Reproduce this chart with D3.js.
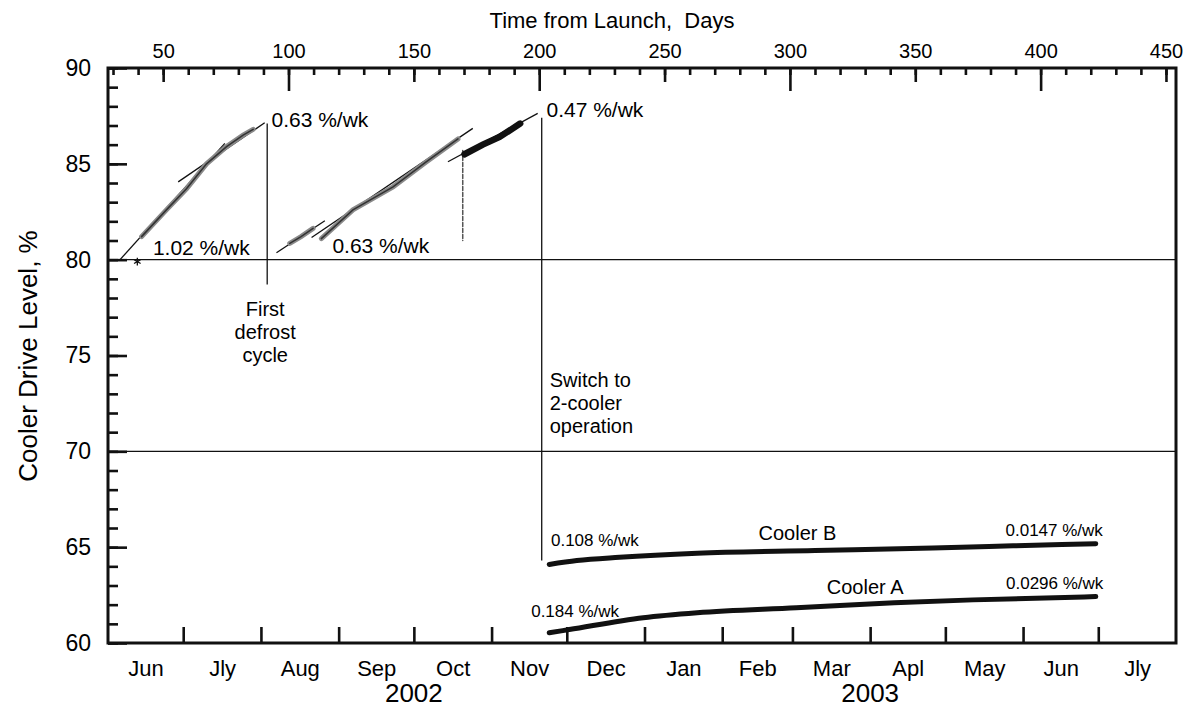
<!DOCTYPE html>
<html>
<head>
<meta charset="utf-8">
<script src="https://cdn.jsdelivr.net/npm/d3@7"></script>
<style>
  body { margin: 0; background: #fff; }
  svg { display: block; font-family: "Liberation Sans", Arial, sans-serif; }
</style>
</head>
<body>
<div id="chart"></div>
<script>
// day 0 = launch, 4 May 2002
const launchDate = new Date(2002, 4, 4);

// axis values
const dayMinor = d3.range(30, 451, 10);
const dayLabels = [50, 100, 150, 200, 250, 300, 350, 400, 450];
const driveMinor = d3.range(60, 91, 1);
const driveLabels = [60, 65, 70, 75, 80, 85, 90];
const monthNames = ["Jun", "Jly", "Aug", "Sep", "Oct", "Nov", "Dec", "Jan", "Feb", "Mar", "Apl", "May", "Jun", "Jly"];
const yearNames = ["2002", "2003"];
const yearCenters = [new Date(2002, 9, 1), new Date(2003, 3, 1)];
const refLevels = [80, 70];

// single-cooler traces [day, drive %]
const trace1 = [[41.4, 81.2], [51.3, 82.6], [59.3, 83.7], [67.3, 85.0], [75.3, 85.9], [81.9, 86.5], [85.9, 86.8]];
const trace2a = [[100.5, 80.85], [105, 81.2], [109.8, 81.63]];
const trace2b = [[113.1, 81.1], [125.7, 82.6], [141.7, 83.8], [154.9, 85.1], [167.6, 86.3]];
const dropTrace = [[169.5, 85.7], [169.5, 81.0]];
const trace3 = [[170.2, 85.5], [177.5, 86.0], [184.2, 86.4], [192.4, 87.1]];
const startMark = [[39.7, 79.9]];

// two-cooler traces
const coolerB = [[204, 64.1], [215, 64.3], [232, 64.47], [263, 64.68], [310, 64.82], [357, 64.96], [389, 65.07], [422, 65.18]];
const coolerA = [[204, 60.53], [212, 60.7], [241.5, 61.32], [263, 61.58], [302.5, 61.84], [341.6, 62.1], [373, 62.25], [422, 62.42]];

// fitted slopes
const fitLines = [
  [[32.8, 80.0], [74.6, 86.07]],
  [[56.0, 84.06], [90.5, 87.14]],
  [[95.2, 80.36], [114.5, 82.03]],
  [[109.2, 81.16], [173.5, 86.85]],
  [[163.6, 85.11], [199.4, 87.63]]
];
const rateNames = ["0.63 %/wk", "1.02 %/wk", "0.63 %/wk", "0.47 %/wk"];
const rateAt = [[93.2, 86.93], [45.9, 80.24], [117.5, 80.33], [202.9, 87.44]];

const coolerNames = ["0.108 %/wk", "Cooler B", "0.0147 %/wk", "0.184 %/wk", "Cooler A", "0.0296 %/wk"];
const coolerNameAt = [[204.7, 65.04], [303, 65.39], [386, 65.56], [196.8, 61.35], [330, 62.58], [386.2, 62.8]];

// event markers
const events = [
  { day: 91.5, top: 87.1, bottom: 78.7, text: ["First", "defrost", "cycle"] },
  { day: 201, top: 87.4, bottom: 64.3, text: ["Switch to", "2-cooler", "operation"] }
];

const width = 1191, height = 710;
const margin = { left: 108, right: 15, top: 68, bottom: 67 };

const svg = d3.select("#chart").append("svg").attr("width", width).attr("height", height);

const xDay = d3.scaleLinear().domain([28, 454]).range([margin.left, width - margin.right]);
const xTime = d3.scaleTime().domain([new Date(2002, 5, 1), new Date(2003, 7, 1)]).range(xDay.range());
const y = d3.scaleLinear().domain([60, 90]).range([height - margin.bottom, margin.top]);
const line = d3.line().x(d => xDay(d[0])).y(d => y(d[1]));

// reference levels
svg.append("g").selectAll("line").data(refLevels).join("line")
  .attr("x1", xDay.range()[0]).attr("x2", xDay.range()[1])
  .attr("y1", d => y(d)).attr("y2", d => y(d))
  .attr("stroke", "#111").attr("stroke-width", 1.2);

// top axis: days from launch
const topMinor = svg.append("g").attr("transform", `translate(0,${margin.top})`)
  .call(d3.axisTop(xDay).tickValues(dayMinor).tickSize(-7).tickFormat(""));
const topAxis = svg.append("g").attr("transform", `translate(0,${margin.top})`)
  .call(d3.axisTop(xDay).tickValues(dayLabels).tickSize(-14).tickPadding(10));
topAxis.selectAll(".tick line").attr("y2", d => d % 100 === 0 ? 23 : 14);
topAxis.selectAll("text").attr("font-size", 20).attr("font-family", null);

// left axis
const leftMinor = svg.append("g").attr("transform", `translate(${margin.left},0)`)
  .call(d3.axisLeft(y).tickValues(driveMinor).tickSize(-10).tickFormat(""));
const leftAxis = svg.append("g").attr("transform", `translate(${margin.left},0)`)
  .call(d3.axisLeft(y).tickValues(driveLabels).tickSize(-19).tickPadding(17));
leftAxis.selectAll("text").attr("font-size", 23).attr("font-family", null);

// bottom axis: months
const months = d3.timeMonth.range(xTime.domain()[0], xTime.domain()[1]);
const bottomTicks = svg.append("g").attr("transform", `translate(0,${height - margin.bottom})`)
  .call(d3.axisBottom(xTime).tickValues(months.slice(1)).tickSize(-16).tickFormat(""));
const midMonths = months.map(m => new Date((+m + +d3.timeMonth.offset(m, 1)) / 2));
const bottomLabels = svg.append("g").attr("transform", `translate(0,${height - margin.bottom})`)
  .call(d3.axisBottom(xTime).tickValues(midMonths).tickSize(0).tickPadding(17)
    .tickFormat((d, i) => monthNames[i]));
bottomLabels.selectAll("text").attr("font-size", 22).attr("font-family", null);
bottomLabels.select(".domain").remove();

[topMinor, topAxis, leftMinor, leftAxis, bottomTicks].forEach(g => {
  g.select(".domain").remove();
  g.selectAll(".tick line").attr("stroke", "#111").attr("stroke-width", 2.6);
});

svg.append("g").selectAll("text").data(yearNames).join("text")
  .attr("x", (d, i) => xTime(yearCenters[i])).attr("y", 702)
  .attr("text-anchor", "middle").attr("font-size", 26).text(d => d);

// frame
svg.append("rect")
  .attr("x", margin.left).attr("y", margin.top)
  .attr("width", width - margin.left - margin.right)
  .attr("height", height - margin.top - margin.bottom)
  .attr("fill", "none").attr("stroke", "#111").attr("stroke-width", 3);

// axis titles
svg.append("text").attr("x", 612).attr("y", 28).attr("text-anchor", "middle")
  .attr("font-size", 22).style("white-space", "pre").text("Time from Launch,  Days");
svg.append("text").attr("transform", "translate(37,356) rotate(-90)").attr("text-anchor", "middle")
  .attr("font-size", 26).text("Cooler Drive Level, %");

// fit lines
svg.append("g").selectAll("path").data(fitLines).join("path")
  .attr("d", line).attr("fill", "none").attr("stroke", "#111").attr("stroke-width", 1.3);

// event lines and notes
const ev = svg.append("g");
ev.selectAll("line").data(events).join("line")
  .attr("x1", d => xDay(d.day)).attr("x2", d => xDay(d.day))
  .attr("y1", d => y(d.top)).attr("y2", d => y(d.bottom))
  .attr("stroke", "#111").attr("stroke-width", 1.3);
ev.append("text").attr("font-size", 20).attr("text-anchor", "middle")
  .selectAll("tspan").data(events[0].text).join("tspan")
  .attr("x", xDay(events[0].day) - 2).attr("y", (d, i) => 316 + i * 23).text(d => d);
ev.append("text").attr("font-size", 20)
  .selectAll("tspan").data(events[1].text).join("tspan")
  .attr("x", xDay(events[1].day) + 8).attr("y", (d, i) => 387 + i * 23).text(d => d);

// single cooler data: grey band with darker core, like the scanned trace
const traces = svg.append("g").attr("fill", "none").attr("stroke-linecap", "round");
const greyTraces = [trace1, trace2a, trace2b];
traces.selectAll("path.band").data(greyTraces).join("path").attr("class", "band")
  .attr("d", line).attr("stroke", "#8a8a8a").attr("stroke-width", 5);
traces.selectAll("path.core").data(greyTraces).join("path").attr("class", "core")
  .attr("d", line).attr("stroke", "#333").attr("stroke-width", 1.6);
traces.append("path").attr("d", line(dropTrace)).attr("stroke", "#555")
  .attr("stroke-width", 1.5).attr("stroke-dasharray", "4,2");
traces.append("path").attr("d", line(trace3)).attr("stroke", "#111").attr("stroke-width", 6.5);
svg.append("g").selectAll("path").data(startMark).join("path")
  .attr("transform", d => `translate(${xDay(d[0])},${y(d[1])})`)
  .attr("d", d3.symbol(d3.symbolAsterisk, 40)).attr("stroke", "#111").attr("stroke-width", 1.3);

// two cooler data
traces.selectAll("path.cooler").data([coolerB, coolerA]).join("path").attr("class", "cooler")
  .attr("d", d3.line().curve(d3.curveMonotoneX).x(d => xDay(d[0])).y(d => y(d[1])))
  .attr("stroke", "#111").attr("stroke-width", 5);

// labels
svg.append("g").selectAll("text").data(rateNames).join("text")
  .attr("x", (d, i) => xDay(rateAt[i][0])).attr("y", (d, i) => y(rateAt[i][1]))
  .attr("font-size", 21).text(d => d);
svg.append("g").selectAll("text").data(coolerNames).join("text")
  .attr("x", (d, i) => xDay(coolerNameAt[i][0])).attr("y", (d, i) => y(coolerNameAt[i][1]))
  .attr("text-anchor", d => d.startsWith("Cooler") ? "middle" : "start")
  .attr("font-size", d => d.startsWith("Cooler") ? 20 : 17).text(d => d);
</script>
</body>
</html>
